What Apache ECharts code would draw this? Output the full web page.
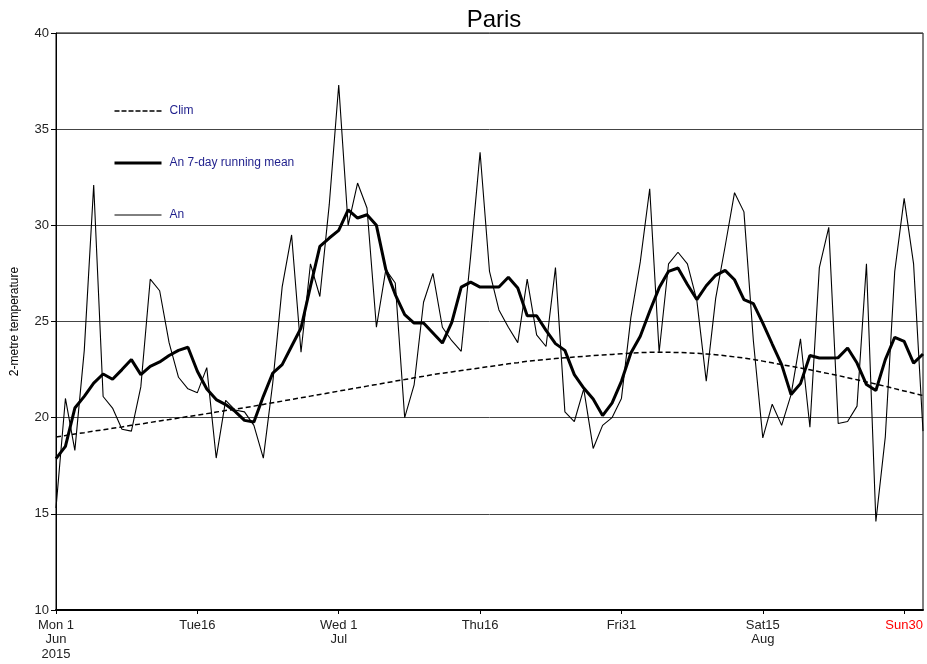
<!DOCTYPE html>
<html>
<head>
<meta charset="utf-8">
<script src="https://cdn.jsdelivr.net/npm/echarts@6/dist/echarts.min.js"></script>
<style>
html,body{margin:0;padding:0;background:#fff;}
#chart{width:927px;height:664px;}
</style>
</head>
<body>
<div id="chart"></div>
<script>
// Days: 1 Jun 2015 .. 1 Sep 2015
const days = [
'2015-06-01','2015-06-02','2015-06-03','2015-06-04','2015-06-05','2015-06-06','2015-06-07','2015-06-08','2015-06-09','2015-06-10',
'2015-06-11','2015-06-12','2015-06-13','2015-06-14','2015-06-15','2015-06-16','2015-06-17','2015-06-18','2015-06-19','2015-06-20',
'2015-06-21','2015-06-22','2015-06-23','2015-06-24','2015-06-25','2015-06-26','2015-06-27','2015-06-28','2015-06-29','2015-06-30',
'2015-07-01','2015-07-02','2015-07-03','2015-07-04','2015-07-05','2015-07-06','2015-07-07','2015-07-08','2015-07-09','2015-07-10',
'2015-07-11','2015-07-12','2015-07-13','2015-07-14','2015-07-15','2015-07-16','2015-07-17','2015-07-18','2015-07-19','2015-07-20',
'2015-07-21','2015-07-22','2015-07-23','2015-07-24','2015-07-25','2015-07-26','2015-07-27','2015-07-28','2015-07-29','2015-07-30',
'2015-07-31','2015-08-01','2015-08-02','2015-08-03','2015-08-04','2015-08-05','2015-08-06','2015-08-07','2015-08-08','2015-08-09',
'2015-08-10','2015-08-11','2015-08-12','2015-08-13','2015-08-14','2015-08-15','2015-08-16','2015-08-17','2015-08-18','2015-08-19',
'2015-08-20','2015-08-21','2015-08-22','2015-08-23','2015-08-24','2015-08-25','2015-08-26','2015-08-27','2015-08-28','2015-08-29',
'2015-08-30','2015-08-31','2015-09-01'
];

const anValues = [
15.3,21.0,18.3,23.5,32.1,21.1,20.5,19.4,19.3,21.6,
27.2,26.6,23.9,22.1,21.5,21.3,22.6,17.9,20.9,20.4,
20.3,19.6,17.9,21.8,26.8,29.5,23.4,28.0,26.3,31.1,
37.3,30.0,32.2,30.9,24.7,27.7,27.0,20.0,21.7,26.0,
27.5,24.7,24.0,23.45,28.4,33.8,27.6,25.6,24.7,23.9,
27.2,24.3,23.7,27.8,20.3,19.8,21.5,18.4,19.6,20.0,
21.0,25.2,28.1,31.9,23.4,28.0,28.6,28.0,26.1,21.9,
26.2,28.9,31.7,30.7,24.0,18.95,20.7,19.6,21.2,24.1,
19.5,27.8,29.9,19.7,19.8,20.6,28.0,14.6,19.0,27.6,
31.4,28.0,19.3
];

const runningMean = [
17.87,18.51,20.5,21.11,21.8,22.27,22.0,22.5,23.02,22.24,
22.67,22.9,23.23,23.5,23.66,22.41,21.49,20.94,20.68,20.33,
19.86,19.78,21.11,22.32,22.76,23.71,24.66,26.83,28.91,29.34,
29.74,30.81,30.38,30.55,30.0,27.7,26.4,25.36,24.92,24.92,
24.4,23.88,24.95,26.79,27.05,26.79,26.79,26.79,27.3,26.74,
25.3,25.3,24.54,23.85,23.5,22.24,21.54,20.97,20.11,20.76,
21.89,23.36,24.23,25.53,26.75,27.61,27.78,26.92,26.14,26.86,
27.4,27.66,27.17,26.14,25.93,24.92,23.83,22.76,21.2,21.77,
23.23,23.1,23.1,23.12,23.62,22.84,21.72,21.41,23.02,24.18,
23.97,22.84,23.31
];

const climValues = [
19.00,19.07,19.15,19.22,19.30,19.37,19.45,19.52,19.60,19.67,
19.75,19.83,19.90,19.98,20.06,20.13,20.21,20.29,20.37,20.44,
20.52,20.60,20.69,20.78,20.86,20.95,21.03,21.12,21.21,21.29,
21.38,21.47,21.55,21.64,21.72,21.81,21.90,21.98,22.07,22.15,
22.24,22.31,22.38,22.45,22.52,22.59,22.66,22.73,22.80,22.86,
22.93,22.98,23.03,23.07,23.11,23.15,23.19,23.23,23.26,23.29,
23.32,23.35,23.38,23.40,23.40,23.40,23.39,23.37,23.35,23.31,
23.27,23.22,23.16,23.10,23.02,22.94,22.85,22.76,22.67,22.58,
22.49,22.39,22.29,22.19,22.08,21.97,21.86,21.75,21.63,21.51,
21.39,21.27,21.15
];

const tickIndices = [0, 15, 30, 45, 60, 75, 90];
const tickLabels = ['Mon 1\nJun\n2015', 'Tue16', 'Wed 1\nJul', 'Thu16', 'Fri31', 'Sat15\nAug', 'Sun30'];

const yTicks = [10, 15, 20, 25, 30, 35, 40];

const FONT = '"Liberation Sans", Arial, sans-serif';
const chart = echarts.init(document.getElementById('chart'), null, {renderer: 'canvas'});

const isTick = (idx) => tickIndices.indexOf(idx) >= 0;

chart.setOption({
  animation: false,
  backgroundColor: '#fff',
  textStyle: {fontFamily: FONT},
  title: {
    text: 'Paris',
    left: 489,
    top: 3,
    textAlign: 'center',
    textStyle: {fontSize: 24, fontWeight: 'normal', color: '#000', fontFamily: FONT}
  },
  legend: {
    orient: 'vertical',
    left: 113,
    top: 105,
    padding: 0,
    itemWidth: 47,
    itemHeight: 14,
    itemGap: 40,
    itemStyle: {opacity: 0},
    textStyle: {color: '#1f1f8c', fontSize: 12, fontFamily: FONT, padding: [0, 0, 0, 3]},
    data: [
      {name: 'Clim', lineStyle: {width: 1.5, type: [5, 2]}},
      {name: 'An 7-day running mean', lineStyle: {width: 3}},
      {name: 'An', lineStyle: {width: 1}}
    ]
  },
  grid: {
    left: 56, right: 4, top: 33, bottom: 54,
    show: true, borderColor: '#000', borderWidth: 1, backgroundColor: 'transparent'
  },
  xAxis: {
    type: 'category',
    data: days,
    boundaryGap: false,
    axisLine: {lineStyle: {color: '#000', width: 2}},
    axisTick: {
      show: true, length: 4, lineStyle: {color: '#000', width: 1},
      interval: (idx) => isTick(idx)
    },
    axisLabel: {
      interval: (idx) => isTick(idx),
      margin: 8,
      fontSize: 13,
      lineHeight: 14.5,
      color: '#222',
      fontFamily: FONT,
      formatter: function (value, idx) {
        const k = tickIndices.indexOf(idx);
        if (k < 0) return '';
        const t = tickLabels[k];
        if (t.indexOf('Sun') === 0) return '{red|' + t + '}';
        return t;
      },
      rich: {red: {color: '#ff0000', fontSize: 13, fontFamily: FONT}}
    },
    splitLine: {show: false}
  },
  yAxis: {
    type: 'value',
    min: yTicks[0],
    max: yTicks[yTicks.length - 1],
    interval: 5,
    name: '2-metre temperature',
    nameLocation: 'middle',
    nameRotate: 90,
    nameGap: 35,
    nameTextStyle: {fontSize: 12, color: '#000', fontFamily: FONT},
    axisLine: {show: true, lineStyle: {color: '#000', width: 1}},
    axisTick: {show: true, length: 5, lineStyle: {color: '#000'}},
    axisLabel: {fontSize: 13, color: '#222', margin: 7, fontFamily: FONT},
    splitLine: {show: true, lineStyle: {color: '#444', width: 1}}
  },
  series: [
    {
      name: 'Clim', type: 'line', data: climValues, symbol: 'none', z: 3,
      lineStyle: {color: '#000', width: 1.5, type: [5, 3]},
      itemStyle: {color: '#000'}
    },
    {
      name: 'An 7-day running mean', type: 'line', data: runningMean, symbol: 'none', z: 5,
      lineStyle: {color: '#000', width: 3},
      itemStyle: {color: '#000'}
    },
    {
      name: 'An', type: 'line', data: anValues, symbol: 'none', z: 4,
      lineStyle: {color: '#000', width: 1.1},
      itemStyle: {color: '#000'}
    }
  ]
});
</script>
</body>
</html>
